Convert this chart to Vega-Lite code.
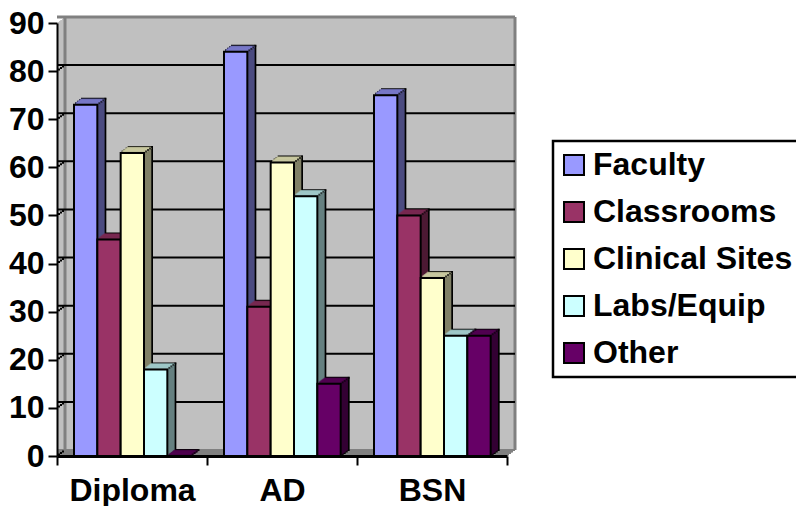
{"width":450,"height":433,"autosize":{"type":"none"},"padding":{"left":57,"top":23,"right":289,"bottom":50},"background":"white","config":{"view":{"stroke":null},"font":"Liberation Sans","legend":{"strokeWidth":2.5}},"datasets":{"bars":[{"c":"Diploma","s":"Faculty","v":73},{"c":"Diploma","s":"Classrooms","v":45},{"c":"Diploma","s":"Clinical Sites","v":63},{"c":"Diploma","s":"Labs/Equip","v":18},{"c":"Diploma","s":"Other","v":0},{"c":"AD","s":"Faculty","v":84},{"c":"AD","s":"Classrooms","v":31},{"c":"AD","s":"Clinical Sites","v":61},{"c":"AD","s":"Labs/Equip","v":54},{"c":"AD","s":"Other","v":15},{"c":"BSN","s":"Faculty","v":75},{"c":"BSN","s":"Classrooms","v":50},{"c":"BSN","s":"Clinical Sites","v":37},{"c":"BSN","s":"Labs/Equip","v":25},{"c":"BSN","s":"Other","v":25}],"grid":[{"g":10},{"g":20},{"g":30},{"g":40},{"g":50},{"g":60},{"g":70},{"g":80}],"ticks":[{"g":0},{"g":10},{"g":20},{"g":30},{"g":40},{"g":50},{"g":60},{"g":70},{"g":80}],"one":[{"g":0}]},"data":{"name":"bars"},"encoding":{"x":{"field":"c","type":"nominal","scale":{"domain":["Diploma","AD","BSN"],"paddingInner":0,"paddingOuter":0},"axis":{"title":null,"labelAngle":0,"labelFont":"Liberation Sans","labelFontWeight":"bold","labelFontSize":32,"labelColor":"black","labelPadding":10,"tickBand":"extent","tickSize":9,"tickWidth":2,"tickColor":"black","domainColor":"black","domainWidth":3,"zindex":1,"grid":false}},"y":{"type":"quantitative","scale":{"domain":[0,90],"nice":false},"axis":{"title":null,"values":[0,10,20,30,40,50,60,70,80,90],"labelFont":"Liberation Sans","labelFontWeight":"bold","labelFontSize":32,"labelColor":"black","labelPadding":4,"tickSize":9,"tickWidth":2,"tickColor":"black","domainColor":"black","domainWidth":2,"zindex":1,"grid":false}}},"layer":[
{"mark":{"type":"bar","fill":"#C0C0C0","xOffset":2,"x2Offset":2,"yOffset":-1.5,"y2Offset":-1.5},"encoding":{"y":{"datum":0},"y2":{"datum":90}}},
{"mark":{"type":"bar","fill":"#C0C0C0","xOffset":4,"x2Offset":4,"yOffset":-3,"y2Offset":-3},"encoding":{"y":{"datum":0},"y2":{"datum":90}}},
{"mark":{"type":"bar","fill":"#C0C0C0","xOffset":6,"x2Offset":6,"yOffset":-4.5,"y2Offset":-4.5},"encoding":{"y":{"datum":0},"y2":{"datum":90}}},
{"mark":{"type":"bar","fill":"#C0C0C0","xOffset":8,"x2Offset":8,"yOffset":-6,"y2Offset":-6},"encoding":{"y":{"datum":0},"y2":{"datum":90}}},
{"mark":{"type":"bar","fill":"#C0C0C0","xOffset":1,"x2Offset":1,"yOffset":-0.75,"y2Offset":-0.75},"encoding":{"y":{"datum":0},"y2":{"datum":90}}},
{"mark":{"type":"bar","fill":"#C0C0C0","xOffset":3,"x2Offset":3,"yOffset":-2.25,"y2Offset":-2.25},"encoding":{"y":{"datum":0},"y2":{"datum":90}}},
{"mark":{"type":"bar","fill":"#C0C0C0","xOffset":5,"x2Offset":5,"yOffset":-3.75,"y2Offset":-3.75},"encoding":{"y":{"datum":0},"y2":{"datum":90}}},
{"mark":{"type":"bar","fill":"#C0C0C0","xOffset":7,"x2Offset":7,"yOffset":-5.25,"y2Offset":-5.25},"encoding":{"y":{"datum":0},"y2":{"datum":90}}},
{"data":{"name":"one"},"mark":{"type":"rule","stroke":"#808080","strokeWidth":2,"xOffset":2,"x2Offset":2,"yOffset":-1.5},"encoding":{"x":null,"y":{"datum":0}}},
{"data":{"name":"one"},"mark":{"type":"rule","stroke":"#808080","strokeWidth":2,"xOffset":4,"x2Offset":4,"yOffset":-3},"encoding":{"x":null,"y":{"datum":0}}},
{"data":{"name":"one"},"mark":{"type":"rule","stroke":"#808080","strokeWidth":2,"xOffset":6,"x2Offset":6,"yOffset":-4.5},"encoding":{"x":null,"y":{"datum":0}}},
{"data":{"name":"one"},"mark":{"type":"rule","stroke":"#808080","strokeWidth":2,"xOffset":8,"x2Offset":8,"yOffset":-6},"encoding":{"x":null,"y":{"datum":0}}},
{"data":{"name":"one"},"mark":{"type":"rule","stroke":"#808080","strokeWidth":3,"xOffset":8,"x2Offset":8,"yOffset":-6},"encoding":{"x":null,"y":{"datum":90}}},
{"data":{"name":"one"},"mark":{"type":"rule","stroke":"#808080","strokeWidth":3,"xOffset":8,"yOffset":-6,"y2Offset":-6},"encoding":{"x":{"datum":"Diploma","bandPosition":0},"y":{"datum":0},"y2":{"datum":90}}},
{"data":{"name":"one"},"mark":{"type":"rule","stroke":"#808080","strokeWidth":3,"xOffset":8,"yOffset":-6,"y2Offset":-6},"encoding":{"x":{"datum":"BSN","bandPosition":1},"y":{"datum":0},"y2":{"datum":90}}},
{"data":{"name":"grid"},"mark":{"type":"rule","stroke":"black","strokeWidth":2,"xOffset":8,"x2Offset":8,"yOffset":-6},"encoding":{"x":null,"y":{"field":"g","type":"quantitative"}}},
{"data":{"name":"ticks"},"mark":{"type":"rule","stroke":"black","strokeWidth":2,"xOffset":2,"yOffset":-0.5,"y2Offset":-2.5},"encoding":{"x":{"datum":"Diploma","bandPosition":0},"y":{"field":"g","type":"quantitative"},"y2":{"field":"g"}}},
{"data":{"name":"ticks"},"mark":{"type":"rule","stroke":"black","strokeWidth":2,"xOffset":4,"yOffset":-2,"y2Offset":-4},"encoding":{"x":{"datum":"Diploma","bandPosition":0},"y":{"field":"g","type":"quantitative"},"y2":{"field":"g"}}},
{"data":{"name":"ticks"},"mark":{"type":"rule","stroke":"black","strokeWidth":2,"xOffset":6,"yOffset":-3.5,"y2Offset":-5.5},"encoding":{"x":{"datum":"Diploma","bandPosition":0},"y":{"field":"g","type":"quantitative"},"y2":{"field":"g"}}},
{"resolve":{"scale":{"xOffset":"independent"}},"encoding":{"y":{"field":"v","type":"quantitative"}},"layer":[
{"mark":{"type":"bar","fill":"black","stroke":"black","strokeWidth":2,"yOffset":-6,"y2Offset":-6},"encoding":{"xOffset":{"field":"s","type":"nominal","scale":{"domain":["Faculty","Classrooms","Clinical Sites","Labs/Equip","Other"],"paddingOuter":0,"paddingInner":0,"range":[25,141.67]}}}},
{"mark":{"type":"bar","fill":"black","stroke":"black","strokeWidth":2,"yOffset":-4.5,"y2Offset":-4.5},"encoding":{"xOffset":{"field":"s","type":"nominal","scale":{"domain":["Faculty","Classrooms","Clinical Sites","Labs/Equip","Other"],"paddingOuter":0,"paddingInner":0,"range":[23,139.67]}}}},
{"mark":{"type":"bar","fill":"black","stroke":"black","strokeWidth":2,"yOffset":-3,"y2Offset":-3},"encoding":{"xOffset":{"field":"s","type":"nominal","scale":{"domain":["Faculty","Classrooms","Clinical Sites","Labs/Equip","Other"],"paddingOuter":0,"paddingInner":0,"range":[21,137.67]}}}},
{"mark":{"type":"bar","fill":"black","stroke":"black","strokeWidth":2,"yOffset":-1.5,"y2Offset":-1.5},"encoding":{"xOffset":{"field":"s","type":"nominal","scale":{"domain":["Faculty","Classrooms","Clinical Sites","Labs/Equip","Other"],"paddingOuter":0,"paddingInner":0,"range":[19,135.67]}}}},
{"mark":{"type":"bar","yOffset":-5.5,"y2Offset":-5.5},"encoding":{"color":{"field":"s","type":"nominal","legend":null,"scale":{"domain":["Other","Labs/Equip","Clinical Sites","Classrooms","Faculty"],"range":["#330033","#668080","#808066","#4D1A33","#4C4C80"]}},"xOffset":{"field":"s","type":"nominal","scale":{"domain":["Faculty","Classrooms","Clinical Sites","Labs/Equip","Other"],"paddingOuter":0,"paddingInner":0,"range":[24.3,140.97]}}}},
{"mark":{"type":"bar","yOffset":-4.5,"y2Offset":-4.5},"encoding":{"color":{"field":"s","type":"nominal","legend":null},"xOffset":{"field":"s","type":"nominal","scale":{"domain":["Faculty","Classrooms","Clinical Sites","Labs/Equip","Other"],"paddingOuter":0,"paddingInner":0,"range":[23,139.67]}}}},
{"mark":{"type":"bar","yOffset":-3.75,"y2Offset":-3.75},"encoding":{"color":{"field":"s","type":"nominal","legend":null},"xOffset":{"field":"s","type":"nominal","scale":{"domain":["Faculty","Classrooms","Clinical Sites","Labs/Equip","Other"],"paddingOuter":0,"paddingInner":0,"range":[22,138.67]}}}},
{"mark":{"type":"bar","yOffset":-3,"y2Offset":-3},"encoding":{"color":{"field":"s","type":"nominal","legend":null},"xOffset":{"field":"s","type":"nominal","scale":{"domain":["Faculty","Classrooms","Clinical Sites","Labs/Equip","Other"],"paddingOuter":0,"paddingInner":0,"range":[21,137.67]}}}},
{"mark":{"type":"bar","yOffset":-2.25,"y2Offset":-2.25},"encoding":{"color":{"field":"s","type":"nominal","legend":null},"xOffset":{"field":"s","type":"nominal","scale":{"domain":["Faculty","Classrooms","Clinical Sites","Labs/Equip","Other"],"paddingOuter":0,"paddingInner":0,"range":[20,136.67]}}}},
{"mark":{"type":"bar","yOffset":-1.5,"y2Offset":-1.5},"encoding":{"color":{"field":"s","type":"nominal","legend":null},"xOffset":{"field":"s","type":"nominal","scale":{"domain":["Faculty","Classrooms","Clinical Sites","Labs/Equip","Other"],"paddingOuter":0,"paddingInner":0,"range":[19,135.67]}}}},
{"mark":{"type":"bar","yOffset":-0.75,"y2Offset":-0.75},"encoding":{"color":{"field":"s","type":"nominal","legend":null},"xOffset":{"field":"s","type":"nominal","scale":{"domain":["Faculty","Classrooms","Clinical Sites","Labs/Equip","Other"],"paddingOuter":0,"paddingInner":0,"range":[18,134.67]}}}},
{"mark":{"type":"tick","filled":false,"size":23,"thickness":0.5,"strokeWidth":1.5,"yOffset":-5.25},"encoding":{"stroke":{"field":"s","type":"nominal","legend":null,"scale":{"domain":["Classrooms","Faculty","Clinical Sites","Labs/Equip","Other"],"range":["#7A2952","#7A7ACC","#CCCCA3","#A3CCCC","#520052"]}},"xOffset":{"field":"s","type":"nominal","scale":{"domain":["Faculty","Classrooms","Clinical Sites","Labs/Equip","Other"],"paddingOuter":0,"paddingInner":0,"range":[24,140.67]}}}},
{"mark":{"type":"tick","filled":false,"size":23,"thickness":0.5,"strokeWidth":1.5,"yOffset":-4.5},"encoding":{"stroke":{"field":"s","type":"nominal","legend":null},"xOffset":{"field":"s","type":"nominal","scale":{"domain":["Faculty","Classrooms","Clinical Sites","Labs/Equip","Other"],"paddingOuter":0,"paddingInner":0,"range":[23,139.67]}}}},
{"mark":{"type":"tick","filled":false,"size":23,"thickness":0.5,"strokeWidth":1.5,"yOffset":-3.75},"encoding":{"stroke":{"field":"s","type":"nominal","legend":null},"xOffset":{"field":"s","type":"nominal","scale":{"domain":["Faculty","Classrooms","Clinical Sites","Labs/Equip","Other"],"paddingOuter":0,"paddingInner":0,"range":[22,138.67]}}}},
{"mark":{"type":"tick","filled":false,"size":23,"thickness":0.5,"strokeWidth":1.5,"yOffset":-3},"encoding":{"stroke":{"field":"s","type":"nominal","legend":null},"xOffset":{"field":"s","type":"nominal","scale":{"domain":["Faculty","Classrooms","Clinical Sites","Labs/Equip","Other"],"paddingOuter":0,"paddingInner":0,"range":[21,137.67]}}}},
{"mark":{"type":"tick","filled":false,"size":23,"thickness":0.5,"strokeWidth":1.5,"yOffset":-2.25},"encoding":{"stroke":{"field":"s","type":"nominal","legend":null},"xOffset":{"field":"s","type":"nominal","scale":{"domain":["Faculty","Classrooms","Clinical Sites","Labs/Equip","Other"],"paddingOuter":0,"paddingInner":0,"range":[20,136.67]}}}},
{"mark":{"type":"tick","filled":false,"size":23,"thickness":0.5,"strokeWidth":1.5,"yOffset":-1.5},"encoding":{"stroke":{"field":"s","type":"nominal","legend":null},"xOffset":{"field":"s","type":"nominal","scale":{"domain":["Faculty","Classrooms","Clinical Sites","Labs/Equip","Other"],"paddingOuter":0,"paddingInner":0,"range":[19,135.67]}}}},
{"mark":{"type":"tick","color":"black","size":2,"thickness":2,"yOffset":-6},"encoding":{"xOffset":{"field":"s","type":"nominal","scale":{"domain":["Faculty","Classrooms","Clinical Sites","Labs/Equip","Other"],"paddingOuter":0,"paddingInner":0,"range":[36.67,153.33]}}}},
{"mark":{"type":"tick","color":"black","size":2,"thickness":2,"yOffset":-4.5},"encoding":{"xOffset":{"field":"s","type":"nominal","scale":{"domain":["Faculty","Classrooms","Clinical Sites","Labs/Equip","Other"],"paddingOuter":0,"paddingInner":0,"range":[34.67,151.33]}}}},
{"mark":{"type":"tick","color":"black","size":2,"thickness":2,"yOffset":-3},"encoding":{"xOffset":{"field":"s","type":"nominal","scale":{"domain":["Faculty","Classrooms","Clinical Sites","Labs/Equip","Other"],"paddingOuter":0,"paddingInner":0,"range":[32.67,149.33]}}}},
{"mark":{"type":"tick","color":"black","size":2,"thickness":2,"yOffset":-1.5},"encoding":{"xOffset":{"field":"s","type":"nominal","scale":{"domain":["Faculty","Classrooms","Clinical Sites","Labs/Equip","Other"],"paddingOuter":0,"paddingInner":0,"range":[30.67,147.33]}}}},
{"mark":{"type":"bar","stroke":"black","strokeWidth":2},"encoding":{"xOffset":{"field":"s","type":"nominal","scale":{"domain":["Faculty","Classrooms","Clinical Sites","Labs/Equip","Other"],"paddingOuter":0,"paddingInner":0,"range":[17,133.67]}},"fill":{"field":"s","type":"nominal","scale":{"domain":["Faculty","Classrooms","Clinical Sites","Labs/Equip","Other"],"range":["#9999FF","#993366","#FFFFCC","#CCFFFF","#660066"]},"legend":{"title":null,"orient":"none","legendX":496,"legendY":118,"fillColor":"white","strokeColor":"black","symbolType":"square","symbolSize":400,"symbolStrokeWidth":2,"symbolStrokeColor":"black","labelFont":"Liberation Sans","labelFontWeight":"bold","labelFontSize":32,"labelColor":"black","labelLimit":400,"rowPadding":15,"padding":8,"symbolOffset":-3,"labelOffset":3}}}}
]}]}
